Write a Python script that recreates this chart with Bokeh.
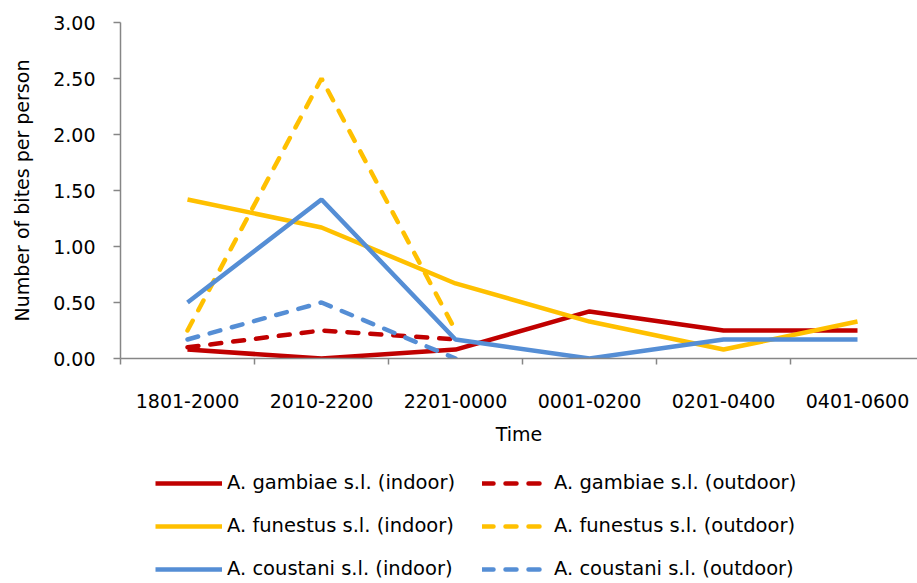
from bokeh.plotting import figure
from bokeh.layouts import column
from bokeh.models import (Range1d, FixedTicker, Legend, LegendItem, NumeralTickFormatter)
from bokeh.embed import file_html
from bokeh.resources import INLINE

times = ["1801-2000", "2010-2200", "2201-0000", "0001-0200", "0201-0400", "0401-0600"]
gambiae_indoor = [0.08, 0.00, 0.08, 0.42, 0.25, 0.25]
gambiae_outdoor = [0.10, 0.25, 0.17]
funestus_indoor = [1.42, 1.17, 0.67, 0.33, 0.08, 0.33]
funestus_outdoor = [0.25, 2.50, 0.25]
coustani_indoor = [0.50, 1.42, 0.17, 0.00, 0.17, 0.17]
coustani_outdoor = [0.17, 0.50, 0.00]
y_ticks = [0, 0.5, 1.0, 1.5, 2.0, 2.5, 3.0]
series_labels = ["A. gambiae s.l. (indoor)", "A. gambiae s.l. (outdoor)",
                 "A. funestus s.l. (indoor)", "A. funestus s.l. (outdoor)",
                 "A. coustani s.l. (indoor)", "A. coustani s.l. (outdoor)"]

RED = "#C00000"
YEL = "#FFC000"
BLU = "#558ED5"
AX = "#868686"
FONT = "DejaVu Sans"
FS = "19px"
LW = 4.5
DASH = "11 12"

x_idx = list(range(len(times)))
series = [gambiae_indoor, gambiae_outdoor, funestus_indoor, funestus_outdoor,
          coustani_indoor, coustani_outdoor]
styles = [(RED, None), (RED, DASH), (YEL, None), (YEL, DASH), (BLU, None), (BLU, DASH)]

p = figure(width=917, height=450, output_backend="svg", toolbar_location=None,
           x_range=Range1d(-0.5, -0.5 + 797 / 134), y_range=Range1d(0, 3),
           min_border_left=120, min_border_top=22, min_border_right=0, min_border_bottom=92)
p.outline_line_color = None
p.grid.visible = False

for vals, (color, dash) in zip(series, styles):
    xs = x_idx[:len(vals)]
    if dash:
        p.line(xs, vals, line_color=color, line_width=LW, line_dash=dash, line_cap="round")
    else:
        p.line(xs, vals, line_color=color, line_width=LW)

xa = p.xaxis[0]
xa.ticker = FixedTicker(ticks=x_idx, minor_ticks=[i - 0.5 for i in range(len(times) + 1)])
xa.major_label_overrides = {i: t for i, t in enumerate(times)}
xa.major_tick_out = 0
xa.major_tick_in = 0
xa.minor_tick_out = 6
xa.minor_tick_in = 0
xa.minor_tick_line_color = AX
xa.axis_line_color = AX
xa.axis_line_width = 1.5
xa.minor_tick_line_width = 1.5
xa.major_label_standoff = 29
xa.axis_label = "Time"
xa.axis_label_standoff = 12
xa.axis_label_text_font_style = "normal"

ya = p.yaxis[0]
ya.ticker = FixedTicker(ticks=y_ticks)
ya.formatter = NumeralTickFormatter(format="0.00")
ya.major_tick_out = 7
ya.major_tick_in = 0
ya.minor_tick_line_color = None
ya.major_tick_line_color = AX
ya.axis_line_color = AX
ya.axis_line_width = 1.5
ya.major_tick_line_width = 1.5
ya.major_label_standoff = 18
ya.axis_label = "Number of bites per person"
ya.axis_label_standoff = 17
ya.axis_label_text_font_style = "normal"

for ax in (xa, ya):
    ax.major_label_text_font = FONT
    ax.major_label_text_font_size = FS
    ax.major_label_text_color = "black"
    ax.axis_label_text_font = FONT
    ax.axis_label_text_font_size = FS
    ax.axis_label_text_color = "black"

# Legend figure below the chart (its series lie outside its visible range)
lg = figure(width=917, height=133, output_backend="svg", toolbar_location=None,
            x_range=Range1d(-0.5, -0.5 + 797 / 134), y_range=Range1d(10, 11),
            x_axis_location=None, y_axis_location=None,
            min_border_left=120, min_border_right=0, min_border_top=0, min_border_bottom=0)
lg.outline_line_color = None
lg.grid.visible = False
rends = []
for vals, (color, dash) in zip(series, styles):
    xs = x_idx[:len(vals)]
    if dash:
        rends.append(lg.line(xs, vals, line_color=color, line_width=LW, line_dash=dash, line_cap="round"))
    else:
        rends.append(lg.line(xs, vals, line_color=color, line_width=LW))

order = [0, 2, 4, 1, 3, 5]
legend = Legend(items=[LegendItem(label=series_labels[i], renderers=[rends[i]]) for i in order],
                orientation="vertical", nrows=3, location=(35, 3))
legend.label_text_font = FONT
legend.label_text_font_size = "19.5px"
legend.label_text_color = "black"
legend.glyph_width = 67
legend.glyph_height = 20
legend.label_height = 20
legend.label_width = 235
legend.label_standoff = 5
legend.spacing = 20
legend.padding = 0
legend.margin = 0
legend.border_line_color = None
legend.background_fill_alpha = 0
lg.add_layout(legend, "center")

layout = column(p, lg, spacing=0)
open("out.html", "w").write(file_html(layout, INLINE))
